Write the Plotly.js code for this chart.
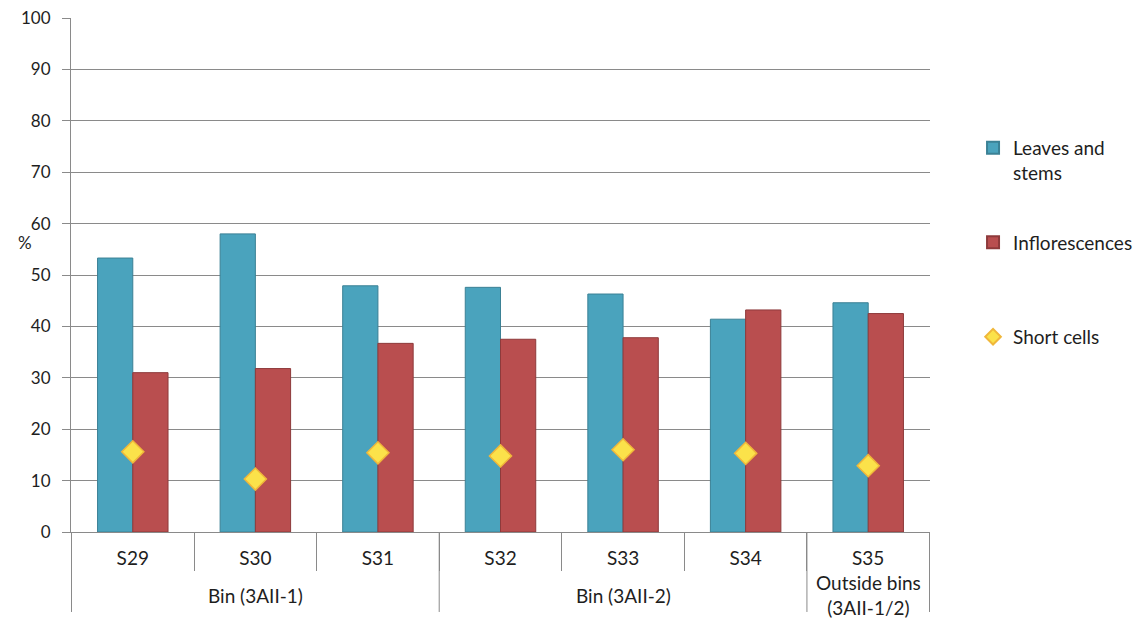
<!DOCTYPE html>
<html>
<head>
<meta charset="utf-8">
<script src="https://cdn.plot.ly/plotly-3.0.1.min.js"></script>
<style>html,body{margin:0;padding:0;background:#fff;}#chart{width:1146px;height:619px;}</style>
</head>
<body>
<div id="chart"></div>
<script>
const samples = ["S29", "S30", "S31", "S32", "S33", "S34", "S35"];
const groupLabels = ["Bin (3AII-1)", "Bin (3AII-2)", "Outside bins<br>(3AII-1/2)"];
const groupStart = [0, 3, 6];   // index of first sample in each group
const groupSize = [3, 3, 1];    // number of samples in each group
const leavesStems = [53.3, 58.0, 47.9, 47.6, 46.3, 41.4, 44.6];
const inflorescences = [31.0, 31.8, 36.7, 37.5, 37.8, 43.2, 42.5];
const shortCells = [15.6, 10.3, 15.4, 14.8, 16.0, 15.3, 12.9];
const yTicks = [0, 10, 20, 30, 40, 50, 60, 70, 80, 90, 100];

const FONT = "Lato, 'Open Sans', sans-serif";
const TXT = "#1e1e1e";
const AXC = "#8a8a8a";

const traces = [
  {type: "bar", name: "Leaves and<br>stems", x: samples, y: leavesStems,
   marker: {color: "#4aa3bd", line: {color: "#3b8195", width: 1}}, legendgroup: "a"},
  {type: "bar", name: "Inflorescences<br> ", x: samples, y: inflorescences,
   marker: {color: "#b94e4f", line: {color: "#8e3a3b", width: 1}}, legendgroup: "b"},
  {type: "scatter", mode: "markers", name: "Short cells", x: samples, y: shortCells,
   marker: {symbol: "diamond", size: 17, color: "#fbe24a", line: {color: "#f0b73a", width: 1.5}}, legendgroup: "c"}
];

// group labels and long group dividers placed in data coordinates of the category axis
const annotations = groupLabels.map((t, i) => ({
  text: t, xref: "x", yref: "paper", x: groupStart[i] + (groupSize[i] - 1) / 2, y: -0.1235,
  xanchor: "center", yanchor: "middle", showarrow: false,
  font: {family: FONT, size: 19, color: TXT}
}));
annotations.push({text: "%", xref: "paper", yref: "paper", x: -0.053, y: 0.563, xanchor: "center", yanchor: "middle",
  showarrow: false, font: {family: FONT, size: 17, color: TXT}});

const bounds = groupStart.map(s => s - 0.5).concat([samples.length - 0.5]);
const shapes = bounds.map(b => ({type: "line", xref: "x", yref: "paper", x0: b, x1: b, y0: 0, y1: -0.1556,
  line: {color: AXC, width: 1}}));

const layout = {
  width: 1146, height: 619,
  margin: {l: 71, r: 216, t: 18, b: 87, autoexpand: false},
  paper_bgcolor: "#fff", plot_bgcolor: "#fff",
  font: {family: FONT, size: 17, color: TXT},
  barmode: "group", bargap: 0.425, bargroupgap: 0,
  showlegend: true,
  legend: {x: 1.0501, y: 0.784, xanchor: "left", yanchor: "top", tracegroupgap: 42, valign: "top",
           itemsizing: "constant",
           font: {family: FONT, size: 19, color: TXT}, bgcolor: "rgba(0,0,0,0)"},
  xaxis: {type: "category", showline: true, linecolor: AXC, linewidth: 1,
          ticks: "outside", ticklen: 38, tickcolor: AXC, tickson: "boundaries", ticklabelstandoff: 9,
          tickfont: {family: FONT, size: 19, color: TXT}, showgrid: false},
  yaxis: {range: [0, 100], tickvals: yTicks, showgrid: true, gridcolor: AXC, gridwidth: 1,
          showline: true, linecolor: AXC, linewidth: 1, ticks: "outside", ticklen: 8, tickcolor: AXC,
          ticklabelstandoff: 8,
          zeroline: false, tickfont: {family: FONT, size: 17, color: TXT}},
  annotations: annotations,
  shapes: shapes
};

Plotly.newPlot("chart", traces, layout, {displayModeBar: false, staticPlot: true});
</script>
</body>
</html>
